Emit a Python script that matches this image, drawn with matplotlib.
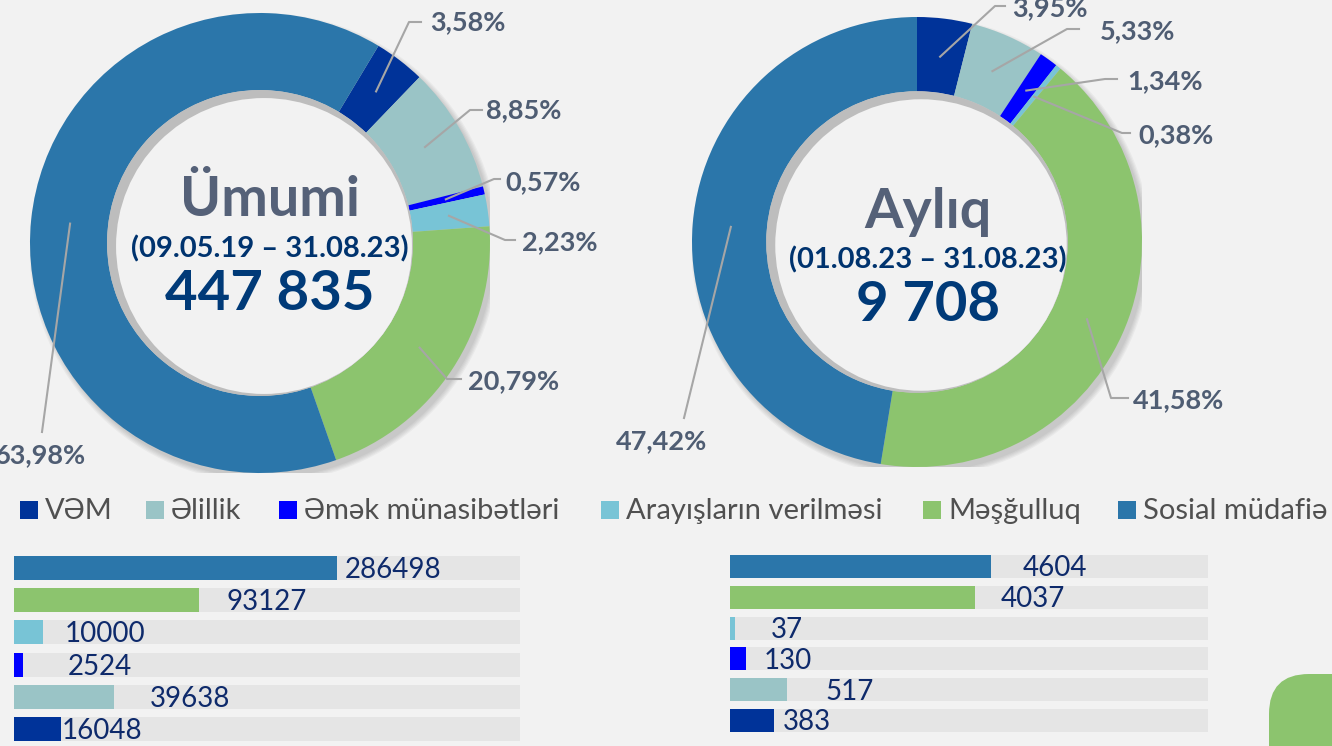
import matplotlib.pyplot as plt
from matplotlib.patches import Circle, Rectangle, FancyBboxPatch
import numpy as np

plt.rcParams['font.family'] = ['Lato', 'DejaVu Sans']

# Data
categories = ['VƏM', 'Əlillik', 'Əmək münasibətləri', 'Arayışların verilməsi',
              'Məşğulluq', 'Sosial müdafiə']
pct_total = [3.58, 8.85, 0.57, 2.23, 20.79, 63.98]
pct_month = [3.95, 5.33, 1.34, 0.38, 41.58, 47.42]
count_total = [16048, 39638, 2524, 10000, 93127, 286498]
count_month = [383, 517, 130, 37, 4037, 4604]
# bar lengths as drawn in the source, % of the grey track (not to scale with the counts)
fill_total = [9.2, 19.8, 1.7, 5.8, 36.6, 63.9]
fill_month = [9.2, 11.9, 3.3, 1.0, 51.3, 54.6]
titles = ['Ümumi', 'Aylıq']
periods = ['(09.05.19 – 31.08.23)', '(01.08.23 – 31.08.23)']
totals = ['447 835', '9 708']

colors = ['#003399', '#9AC4C6', '#0000FF', '#78C4D6', '#8CC46E', '#2B76AA']
BG = '#F2F2F2'
W, H = 1332, 746

fig = plt.figure(figsize=(W / 100, H / 100), dpi=100)
fig.patch.set_facecolor(BG)

# full-figure pixel axes for legend and decoration
bg = fig.add_axes([0, 0, 1, 1], zorder=-1)
bg.set_xlim(0, W)
bg.set_ylim(H, 0)
bg.axis('off')


def pct_text(v):
    return f'{v:.2f}%'.replace('.', ',')


def donut(cx, cy, R, hole, start, pcts, title, period, total, tx, base_y, layout):
    ax = fig.add_axes([(cx - R) / W, (H - cy - R) / H, 2 * R / W, 2 * R / H])

    def d(px, py):
        return (px - cx) / R, (cy - py) / R

    # soft outer shadow
    for k in range(5):
        ax.add_patch(Circle((4 / R, -5 / R), 1 + k * 1.2 / R, color='#000000',
                            alpha=0.035, lw=0, zorder=0))
    wedges, _ = ax.pie(pcts, colors=colors, startangle=90 - start, counterclock=False,
                       radius=1, wedgeprops=dict(width=1 - hole, linewidth=0))
    for w in wedges:
        w.set_zorder(2)
    # hole with inner shadow crescent
    ax.add_patch(Circle((0, 0), hole, color='#BDBDBD', lw=0, zorder=3))
    ax.add_patch(Circle((4 / R, -3 / R), hole - 5 / R, color=BG, lw=0, zorder=4))

    for w, v, (elbow, tend, tpos, ha) in zip(wedges, pcts, layout):
        mid = np.deg2rad((w.theta1 + w.theta2) / 2)
        p0 = (0.83 * np.cos(mid), 0.83 * np.sin(mid))
        pts = [p0, d(*elbow)]
        if tend is not None:
            pts.append(d(*tend))
        xs, ys = zip(*pts)
        ax.plot(xs, ys, color='#A6A6A6', lw=1.5, clip_on=False, zorder=5)
        x, y = d(*tpos)
        ax.text(x, y, pct_text(v), ha=ha, va='center', fontsize=19.5, fontweight='bold',
                color='#4F5D73', zorder=6)

    ax.text(*d(tx, base_y[0]), title, ha='center', va='baseline', fontsize=40,
            fontweight='bold', color='#556178', zorder=6)
    ax.text(*d(tx, base_y[1]), period, ha='center', va='baseline', fontsize=21,
            fontweight='bold', color='#00336E', zorder=6)
    ax.text(*d(tx, base_y[2]), total, ha='center', va='baseline', fontsize=40.5,
            fontweight='bold', color='#003A78', zorder=6)
    ax.set_xlim(-1, 1)
    ax.set_ylim(-1, 1)
    ax.axis('off')


# label layout: (elbow px, end of horizontal px, text position px, alignment)
layout_total = [
    ((409, 22), (421, 22), (430, 22), 'left'),
    ((470, 110), (482, 110), (486, 110), 'left'),
    ((494, 179), (500, 179), (505, 182), 'left'),
    ((505, 240), (515, 240), (522, 242), 'left'),
    ((447, 379), (461, 379), (468, 381), 'left'),
    ((42, 432), None, (40, 455), 'center'),
]
layout_month = [
    ((995, 6), (1005, 6), (1012, 8), 'left'),
    ((1067, 29), (1079, 29), (1100, 31), 'left'),
    ((1105, 79), (1117, 79), (1127, 81), 'left'),
    ((1122, 133), (1130, 133), (1138, 135), 'left'),
    ((1111, 398), (1128, 398), (1133, 400), 'left'),
    ((684, 418), None, (662, 441), 'center'),
]

donut(260, 243, 230, 0.665, 31, pct_total, titles[0], periods[0], totals[0],
      270, (216, 257, 310), layout_total)
donut(917, 242, 225, 0.67, 0, pct_month, titles[1], periods[1], totals[1],
      928, (228, 268, 321), layout_month)

# legend
marker_x = [20, 146, 279, 601, 923, 1118]
for mx, c, name in zip(marker_x, colors, categories):
    bg.add_patch(Rectangle((mx, 501), 18, 18, color=c, lw=0))
    bg.text(mx + 25, 519, name, ha='left', va='baseline', fontsize=21, color='#505050')


def bars(rect, counts, fills, gaps, height):
    ax = fig.add_axes(rect)
    y = np.arange(len(counts))
    ax.barh(y, [100] * len(counts), height=height, color='#E5E5E5', lw=0)
    ax.barh(y, fills, height=height, color=colors, lw=0)
    for yi, c, f, g in zip(y, counts, fills, gaps):
        ax.annotate(str(c), xy=(f, yi), xytext=(g * 0.72, -10 * 0.72),
                    textcoords='offset points', ha='left', va='baseline',
                    fontsize=20, color='#0E2A6B', annotation_clip=False)
    ax.set_xlim(0, 100)
    ax.set_ylim(-0.5, len(counts) - 0.5)
    ax.axis('off')


gap_total = [1, 36, 45, 21, 27, 7]
gap_month = [9, 39, 18, 36, 25, 32]
bars([14 / W, (H - 745.1) / H, 506 / W, 193.2 / H], count_total, fill_total, gap_total, 0.745)
bars([730 / W, (H - 735.9) / H, 478 / W, 184.8 / H], count_month, fill_month, gap_month, 0.75)

# green corner shape bottom right
bg.add_patch(FancyBboxPatch((1269, 674), 160, 160, boxstyle='round,pad=0,rounding_size=40',
                            color='#8CC46E', lw=0))

plt.savefig('out.png', dpi=100, facecolor=BG)
